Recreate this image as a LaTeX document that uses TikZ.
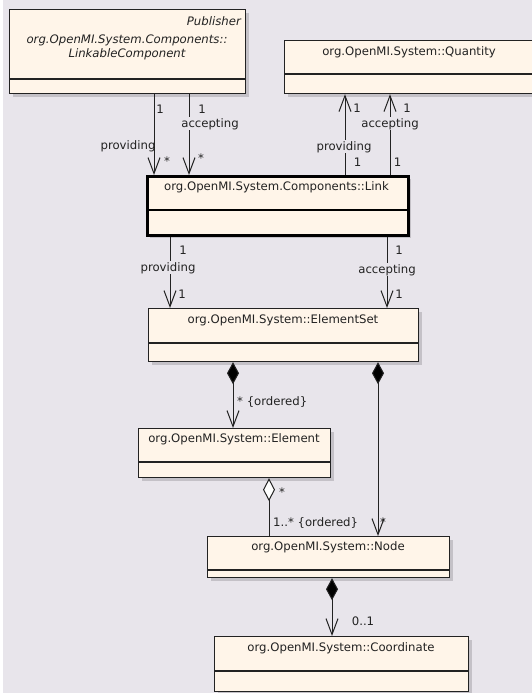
\documentclass[tikz,border=0pt]{standalone}
\usepackage{fontspec}
\setmainfont{DejaVu Sans}
\usetikzlibrary{arrows.meta,shadows}
\definecolor{bg}{HTML}{E8E5EB}
\definecolor{boxfill}{HTML}{FFF5E9}
\definecolor{shade}{HTML}{C4C1C7}
\definecolor{ink}{HTML}{222222}
\begin{document}
\begin{tikzpicture}[x=1pt,y=-1pt,
  classbox/.style={draw=ink, line width=1.2pt, fill=boxfill, inner sep=0pt,
    anchor=north west,
    drop shadow={shadow xshift=3pt,shadow yshift=-3pt,fill=shade,opacity=1}},
  thickbox/.style={classbox, draw=black, line width=2.6pt},
  divider/.style={draw=ink, line width=1.2pt},
  thickdivider/.style={draw=black, line width=2.6pt},
  cname/.style={font=\fontsize{11.7}{14}\selectfont, text=ink, inner sep=0pt, anchor=base},
  stereo/.style={cname, font=\fontsize{11.7}{14}\selectfont\itshape},
  mult/.style={font=\fontsize{11.7}{14}\selectfont, text=ink, inner sep=0pt, anchor=base},
  role/.style={mult, fill=bg, inner sep=1pt},
  assoc/.style={draw=ink, line width=1pt, -{Straight Barb[length=16pt,width=12pt]}},
  comp/.style={draw=ink, line width=1pt,
    {Diamond[length=22pt,width=12pt,fill=black]}-{Straight Barb[length=16pt,width=12pt]}},
  aggr/.style={draw=ink, line width=1pt,
    {Diamond[length=23pt,width=12pt,fill=white]}-}
]
\clip (0,0) rectangle (532,693);
\fill[bg] (0,0) rectangle (532,693);
\fill[white] (0,0) rectangle (2.5,693);

% ---------- classes ----------
\node[classbox, minimum width=236pt, minimum height=84pt] (lc) at (9,9) {};
\draw[divider] (lc.west |- 0,79) -- (lc.east |- 0,79);
\node[stereo, anchor=base east] (lcst) at (241,25.4) {Publisher};
\node[stereo] (lcn1) at (127,43.5) {org.OpenMI.System.Components::};
\node[stereo] (lcn2) at (127,57.5) {LinkableComponent};

\node[classbox, minimum width=250pt, minimum height=53pt] (quantity) at (284,40) {};
\draw[divider] (quantity.west |- 0,74) -- (quantity.east |- 0,74);
\node[cname] (quantityn) at (409,55.5) {org.OpenMI.System::Quantity};

\node[thickbox, minimum width=261pt, minimum height=59pt] (link) at (146,175) {};
\draw[thickdivider] (link.west |- 0,210) -- (link.east |- 0,210);
\node[cname] (linkn) at (276.5,190.5) {org.OpenMI.System.Components::Link};

\node[classbox, minimum width=270pt, minimum height=53pt] (eset) at (148,308) {};
\draw[divider] (eset.west |- 0,343) -- (eset.east |- 0,343);
\node[cname] (esetn) at (283,323.5) {org.OpenMI.System::ElementSet};

\node[classbox, minimum width=192pt, minimum height=49pt] (elem) at (138,428) {};
\draw[divider] (elem.west |- 0,462) -- (elem.east |- 0,462);
\node[cname] (elemn) at (234,442.5) {org.OpenMI.System::Element};

\node[classbox, minimum width=242pt, minimum height=41pt] (node) at (207,536) {};
\draw[divider] (node.west |- 0,570) -- (node.east |- 0,570);
\node[cname] (noden) at (328,550.5) {org.OpenMI.System::Node};

\node[classbox, minimum width=254pt, minimum height=55pt] (coord) at (214,636) {};
\draw[divider] (coord.west |- 0,671) -- (coord.east |- 0,671);
\node[cname] (coordn) at (341,651.5) {org.OpenMI.System::Coordinate};

% ---------- LinkableComponent -> Link ----------
\draw[assoc] (lc.south -| 154,0) -- (link.north -| 154,0);
\node[mult] (m1) at (160,113) {1};
\node[mult] (r1) at (128,149) {providing};
\node[mult] (m2) at (167,165) {*};

\draw[assoc] (lc.south -| 189,0) -- (link.north -| 189,0);
\node[mult] (m3) at (202,113) {1};
\node[role] (r2) at (210,127) {accepting};
\node[mult] (m4) at (201,162) {*};

% ---------- Link -> Quantity ----------
\draw[assoc] (link.north -| 345,0) -- (quantity.south -| 345,0);
\node[mult] (m5) at (357,112.5) {1};
\node[role] (r3) at (344,150) {providing};
\node[mult] (m6) at (357.5,166) {1};

\draw[assoc] (link.north -| 390,0) -- (quantity.south -| 390,0);
\node[mult] (m7) at (407,112.5) {1};
\node[role] (r4) at (390,127) {accepting};
\node[mult] (m8) at (397.5,166) {1};

% ---------- Link -> ElementSet ----------
\draw[assoc] (link.south -| 170,0) -- (eset.north -| 170,0);
\node[mult] (m9) at (183,254) {1};
\node[role] (r5) at (168,271) {providing};
\node[mult] (m10) at (182,298) {1};

\draw[assoc] (link.south -| 387,0) -- (eset.north -| 387,0);
\node[mult] (m11) at (399,254) {1};
\node[role] (r6) at (387,273) {accepting};
\node[mult] (m12) at (399,298) {1};

% ---------- ElementSet -> Element ----------
\draw[comp] (eset.south -| 233,0) -- (elem.north -| 233,0);
\node[mult, anchor=base west] (m13) at (237,405.5) {* \{ordered\}};

% ---------- ElementSet -> Node ----------
\draw[comp] (eset.south -| 378,0) -- (node.north -| 378,0);
\node[mult] (m14) at (383,526) {*};

% ---------- Element -> Node ----------
\draw[aggr] (elem.south -| 269,0) -- (node.north -| 269,0);
\node[mult] (m15) at (282,496) {*};
\node[mult, anchor=base west] (m16) at (273,526) {1..* \{ordered\}};

% ---------- Node -> Coordinate ----------
\draw[comp] (node.south -| 332,0) -- (coord.north -| 332,0);
\node[mult] (m17) at (363,625) {0..1};
\end{tikzpicture}
\end{document}
